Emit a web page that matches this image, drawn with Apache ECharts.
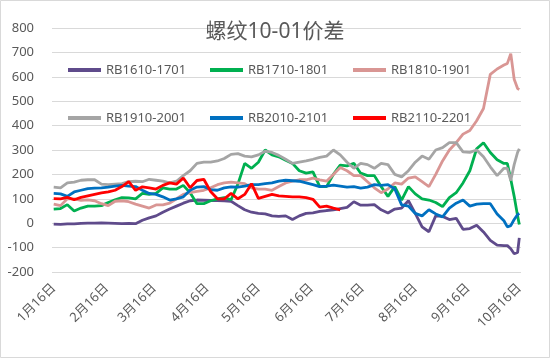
<!DOCTYPE html>
<html>
<head>
<meta charset="utf-8">
<script src="https://cdn.jsdelivr.net/npm/echarts@6/dist/echarts.min.js"></script>
<style>
html,body{margin:0;padding:0;background:#fff;}
#c{width:550px;height:358px;}
</style>
</head>
<body>
<div id="c"></div>
<script>
// day offsets from 1月16日
var days = [0,4,8,12,16,20,24,28,32,36,40,44,48,52,56,60,64,68,72,76,80,84,88,92,96,100,104,108,112,116,120,124,128,132,136,140,144,148,152,156,160,164,168,172,176,180,184,188,192,196,200,204,208,212,216,220,224,228,232,236,240,244,248,252,256,260,264,266,268,270,272,273];

var tickDays = [0,31,59,90,120,151,181,212,243,273];
var tickLabels = ["1月16日","2月16日","3月16日","4月16日","5月16日","6月16日","7月16日","8月16日","9月16日","10月16日"];

var names = ["RB1610-1701","RB1710-1801","RB1810-1901","RB1910-2001","RB2010-2101","RB2110-2201"];
var colors = ["#5f4b8b","#00b050","#d99694","#a5a5a5","#0070c0","#ff0000"];

var rb1610 = [-4,-5,-3,-3,-1,0,0,1,0,-1,-2,-1,-2,12,22,30,45,58,70,82,92,95,94,93,93,92,90,72,55,45,40,38,30,28,30,15,30,40,42,48,52,55,60,65,88,74,74,76,55,42,58,62,92,40,-15,-35,30,28,15,20,-25,-22,-8,-36,-70,-90,-92,-92,-105,-125,-120,-60];
var rb1710 = [58,60,76,50,62,70,70,72,85,96,105,104,100,122,118,122,145,140,140,155,125,80,80,92,100,105,96,160,245,225,250,300,280,272,258,245,215,205,210,150,150,200,238,235,245,205,195,195,150,110,150,95,150,120,100,95,85,68,105,125,165,215,305,330,290,260,245,245,180,110,30,-5];
var rb1810 = [78,72,100,100,94,96,92,80,72,90,92,88,78,70,62,75,75,82,100,118,125,130,135,145,158,165,168,165,162,145,140,140,135,150,165,172,178,178,185,178,172,200,228,215,195,195,170,145,125,140,165,160,185,190,170,150,200,255,300,330,365,380,420,470,610,632,648,655,695,590,552,548];
var rb1910 = [148,145,165,168,176,178,178,160,158,160,162,170,172,170,180,176,172,165,172,195,215,245,250,250,255,265,282,285,275,272,280,295,290,278,262,245,250,255,262,270,275,300,280,250,225,245,240,225,245,240,200,190,215,250,275,262,300,310,330,330,292,290,300,272,231,195,225,225,175,240,290,305];
var rb2010 = [122,120,110,128,135,142,144,145,148,152,155,152,150,135,122,118,108,95,100,108,135,148,150,138,135,145,149,148,152,158,158,162,165,172,176,174,172,165,158,150,152,156,152,148,150,144,148,158,155,158,140,75,70,40,30,55,38,26,62,82,95,70,78,80,80,38,10,-15,-10,15,35,40];
var rb2110 = [101,100,106,96,106,112,118,124,128,135,150,170,135,149,145,140,155,165,160,185,145,175,180,130,100,100,122,100,118,162,102,110,118,112,110,108,108,105,98,66,70,62,55,null,null,null,null,null,null,null,null,null,null,null,null,null,null,null,null,null,null,null,null,null,null,null,null,null,null,null,null,null];

var allVals = [rb1610, rb1710, rb1810, rb1910, rb2010, rb2110];
var FONT = '"Noto Sans","Noto Sans CJK SC",sans-serif';
var TXT = '#595959';

var series = names.map(function(n, i){
  return {
    name: n, type: 'line', symbol: 'none', showSymbol: false,
    data: days.map(function(d, j){ return [d, allVals[i][j]]; }),
    lineStyle: {width: 2.8, color: colors[i]},
    itemStyle: {color: colors[i]},
    connectNulls: false, z: 2 + i
  };
});

var legendPos = [[68,62],[210,62],[353,62],[68,110],[210,110],[353,110]];
var legends = names.map(function(n, i){
  return {
    data: [n], left: legendPos[i][0], top: legendPos[i][1], padding: 0,
    itemWidth: 33, itemHeight: 4, icon: 'rect',
    textStyle: {fontSize: 13, color: TXT, fontFamily: FONT, lineHeight: 16}
  };
});

var chart = echarts.init(document.getElementById('c'));
chart.setOption({
  animation: false,
  backgroundColor: '#fff',
  title: {
    text: '螺纹10-01价差', left: 'center', top: 17,
    textStyle: {fontSize: 21, fontWeight: 'normal', color: TXT, fontFamily: FONT}
  },
  graphic: [{type: 'rect', shape: {x: 0.5, y: 0.5, width: 549, height: 357}, style: {fill: 'none', stroke: '#d9d9d9', lineWidth: 1}, silent: true}],
  legend: legends,
  grid: {left: 52, right: 29, top: 28, bottom: 86, containLabel: false},
  xAxis: {
    type: 'value', min: -1, max: 274,
    axisLine: {show: false}, axisTick: {show: false}, splitLine: {show: false},
    axisLabel: {
      customValues: tickDays, rotate: 45, margin: 14, fontSize: 13, color: TXT, fontFamily: FONT,
      formatter: function(v){ var k = tickDays.indexOf(v); return k >= 0 ? tickLabels[k] : ''; }
    }
  },
  yAxis: {
    type: 'value', min: -200, max: 800, interval: 100,
    axisLine: {show: false}, axisTick: {show: false},
    splitLine: {lineStyle: {color: '#d9d9d9', width: 1}},
    axisLabel: {fontSize: 13, color: TXT, fontFamily: FONT, margin: 18}
  },
  series: series
});
</script>
</body>
</html>
